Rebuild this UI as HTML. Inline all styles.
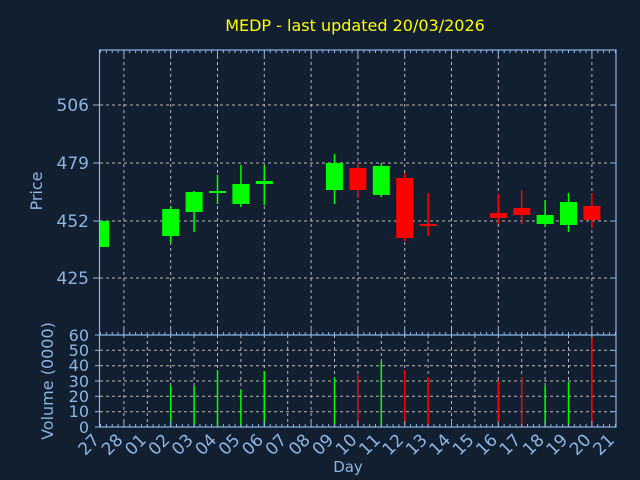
<!DOCTYPE html>
<html><head><meta charset="utf-8"><style>
html,body{margin:0;padding:0;background:#111f30;}
svg{display:block}
text{font-family:"DejaVu Sans","Liberation Sans",sans-serif;}
</style></head><body>
<svg width="640" height="480" viewBox="0 0 640 480" xmlns="http://www.w3.org/2000/svg">
<rect width="640" height="480" fill="#111f30"/>
<text x="355" y="31" fill="#ffff00" font-size="16" text-anchor="middle">MEDP - last updated 20/03/2026</text>
<defs><clipPath id="pc"><rect x="100" y="50" width="516" height="285"/></clipPath>
<clipPath id="vc"><rect x="100" y="335" width="516" height="92"/></clipPath></defs>
<g stroke="#b8b8b8" stroke-width="1" stroke-dasharray="3,3" fill="none">
<line x1="100" y1="105" x2="616" y2="105"/><line x1="100" y1="163" x2="616" y2="163"/>
<line x1="100" y1="221" x2="616" y2="221"/><line x1="100" y1="278" x2="616" y2="278"/>
<line x1="123.9" y1="50" x2="123.9" y2="335"/><line x1="170.7" y1="50" x2="170.7" y2="335"/>
<line x1="217.5" y1="50" x2="217.5" y2="335"/><line x1="264.3" y1="50" x2="264.3" y2="335"/>
<line x1="311.1" y1="50" x2="311.1" y2="335"/><line x1="357.9" y1="50" x2="357.9" y2="335"/>
<line x1="404.7" y1="50" x2="404.7" y2="335"/><line x1="451.5" y1="50" x2="451.5" y2="335"/>
<line x1="498.3" y1="50" x2="498.3" y2="335"/><line x1="545.1" y1="50" x2="545.1" y2="335"/>
<line x1="591.9" y1="50" x2="591.9" y2="335"/>
<line x1="100" y1="411.7" x2="616" y2="411.7"/><line x1="100" y1="396.3" x2="616" y2="396.3"/>
<line x1="100" y1="381" x2="616" y2="381"/><line x1="100" y1="365.7" x2="616" y2="365.7"/>
<line x1="100" y1="350.3" x2="616" y2="350.3"/>
</g>
<g stroke="#b8b8b8" stroke-width="1" stroke-dasharray="3,3" id="vg"></g>
<script>
var vg=document.getElementById('vg'),ns="http://www.w3.org/2000/svg";
for(var i=1;i<22;i++){var x=100.5+23.4*i;var l=document.createElementNS(ns,'line');l.setAttribute('x1',x);l.setAttribute('x2',x);l.setAttribute('y1',335);l.setAttribute('y2',427);vg.appendChild(l);}
</script>
<g clip-path="url(#pc)" id="cd"></g>
<g clip-path="url(#vc)" id="vb"></g>
<script>
var G="#00ff00",R="#ff0000";
var c=[[0,221,247,221,247,G,427],[3,209,236,206,243,G,386],[4,192,212,191,232,G,386],[5,191,193,175,204,G,370],[6,184,204,165,207,G,390],[7,181,184,166,205,G,371],
[10,163,190,154,204,G,378],[11,168,190,163,198,R,375],[12,166,195,163,197,G,362],[13,178,238,173,241,R,370],[14,224,226,193,236,R,377],
[17,213,218,194,224,R,381],[18,208,215,190,224,R,377],[19,215,224,200,227,G,386],[20,202,225,193,232,G,382],[21,206,220,193,228,R,338]];
var cd=document.getElementById('cd'),vb=document.getElementById('vb');
c.forEach(function(d){var x=100.5+23.4*d[0];
 var w=document.createElementNS(ns,'line');w.setAttribute('x1',x);w.setAttribute('x2',x);w.setAttribute('y1',d[3]);w.setAttribute('y2',d[4]);w.setAttribute('stroke',d[5]);w.setAttribute('stroke-width',1.5);cd.appendChild(w);
 var r=document.createElementNS(ns,'rect');r.setAttribute('x',x-8.5);r.setAttribute('y',d[1]);r.setAttribute('width',17);r.setAttribute('height',Math.max(2,d[2]-d[1]));r.setAttribute('fill',d[5]);cd.appendChild(r);
 var v=document.createElementNS(ns,'line');v.setAttribute('x1',x);v.setAttribute('x2',x);v.setAttribute('y1',d[6]);v.setAttribute('y2',427);v.setAttribute('stroke',d[5]);v.setAttribute('stroke-width',1.5);vb.appendChild(v);
});
</script>
<g stroke="#8db4e2" stroke-width="1.2" fill="none">
<rect x="99.5" y="50" width="516.5" height="377"/>
<line x1="99.5" y1="335" x2="616" y2="335"/>
</g>
<g id="tk" stroke="#8db4e2" stroke-width="1"></g>
<script>
var tk=document.getElementById('tk');
function L(x1,y1,x2,y2){var l=document.createElementNS(ns,'line');l.setAttribute('x1',x1);l.setAttribute('x2',x2);l.setAttribute('y1',y1);l.setAttribute('y2',y2);tk.appendChild(l);}
for(var i=0;i<=22;i++){var x=100.5+23.4*i;var maj=(i%2==1);
 L(x,335,x,335-(maj?6:3)); L(x,427,x,427-(maj?6:3)); L(x,50,x,50+(maj?6:3));
 if(i<22){for(var k=1;k<4;k++){var xm=x+23.4*k/4;L(xm,335,xm,332);L(xm,427,xm,424);L(xm,50,xm,53);}}}
[105,163,221,278].forEach(function(y){L(93,y,100,y);L(610,y,616,y);});
for(var v=0;v<=60;v+=10){var y=427-v*1.533;L(95,y,100,y);L(610,y,616,y);}
</script>
<g fill="#8db4e2" font-size="17" text-anchor="end">
<text x="89" y="111">506</text><text x="89" y="169">479</text>
<text x="89" y="227">452</text><text x="89" y="284">425</text>
</g>
<g fill="#8db4e2" font-size="16" text-anchor="end">
<text x="89" y="341">60</text><text x="89" y="356">50</text><text x="89" y="371">40</text>
<text x="89" y="387">30</text><text x="89" y="402">20</text><text x="89" y="417">10</text><text x="89" y="433">0</text>
</g>
<text transform="translate(42,191) rotate(-90)" fill="#8db4e2" font-size="16" text-anchor="middle">Price</text>
<text transform="translate(53,381) rotate(-90)" fill="#8db4e2" font-size="16" text-anchor="middle">Volume (0000)</text>
<text x="348" y="472" fill="#8db4e2" font-size="15" text-anchor="middle">Day</text>
<g id="dl" fill="#8db4e2" font-size="17" text-anchor="end"></g>
<script>
var labs=["27","28","01","02","03","04","05","06","07","08","09","10","11","12","13","14","15","16","17","18","19","20","21"];
var dl=document.getElementById('dl');
labs.forEach(function(s,i){var x=100.5+23.4*i;var t=document.createElementNS(ns,'text');t.setAttribute('transform','translate('+x+',441) rotate(-45)');t.textContent=s;dl.appendChild(t);});
</script>
</svg>
</body></html>
